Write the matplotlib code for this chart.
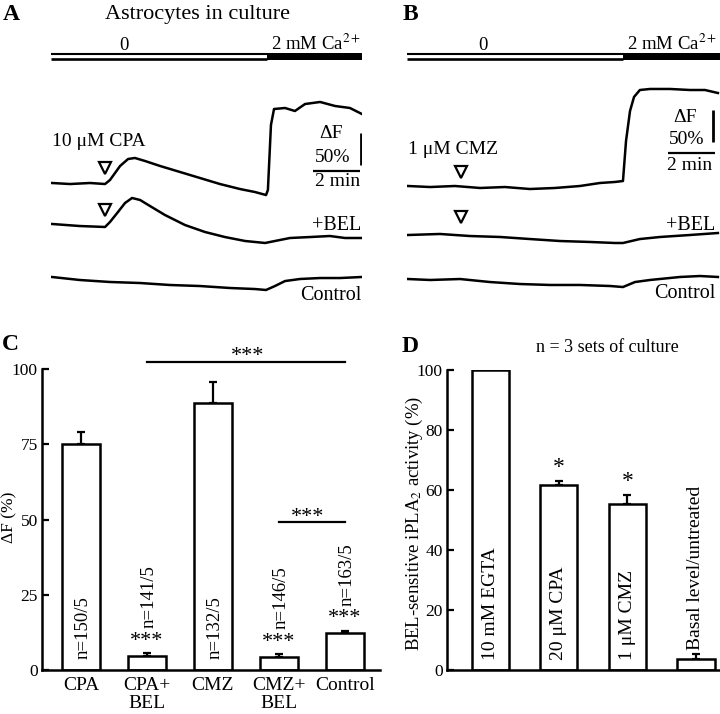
import matplotlib.pyplot as plt

plt.rcParams['font.family'] = ['Liberation Serif', 'DejaVu Serif']
plt.rcParams['mathtext.fontset'] = 'stix'

# ---- panel A traces: time (min), dF (%) relative to each trace's start ----
cpa_t = [0.04, 0.81, 1.66, 2.30, 2.51, 2.94, 3.28, 3.57, 4.00, 4.64, 5.49, 6.34,
         7.19, 8.04, 8.68, 9.15, 9.23, 9.36, 9.49, 9.96, 10.38, 10.81, 11.45,
         12.09, 12.72, 13.23]
cpa_df = [0, -1.6, 0, -1.6, 4.7, 26.6, 37.5, 39.1, 34.4, 26.6, 17.2, 7.8,
          -1.6, -9.4, -14.1, -18.8, -10.9, 90.6, 115.6, 117.2, 112.5, 123.4, 126.6,
          120.3, 117.2, 107.8]

cpa_bel_t = [0.04, 1.23, 2.30, 2.51, 2.85, 3.15, 3.45, 3.79, 4.21, 4.85, 5.70,
             6.55, 7.40, 8.26, 9.11, 9.53, 10.17, 11.02, 11.87, 12.51, 13.23]
cpa_bel_df = [1.6, -1.6, -3.1, 4.7, 20.3, 34.4, 42.2, 39.1, 29.7, 15.6, 0,
              -10.9, -18.8, -25.0, -28.1, -25.0, -20.3, -18.8, -17.2, -20.3, -20.3]

ctrl_a_t = [0.04, 1.23, 2.51, 3.79, 5.06, 6.34, 7.62, 8.68, 9.15, 9.53, 9.96,
            10.60, 11.45, 12.30, 13.23]
ctrl_a_df = [0, -4.7, -7.8, -9.4, -12.5, -14.1, -17.2, -18.8, -20.3, -14.1, -6.3,
             -3.1, -1.6, -1.6, 0]

# ---- panel B traces ----
cmz_t = [0.04, 0.98, 2.04, 3.11, 4.17, 5.23, 6.30, 7.36, 8.21, 8.85, 9.19,
         9.32, 9.49, 9.66, 9.91, 10.34, 11.19, 12.04, 12.68, 13.23]
cmz_df = [0, -1.6, 0, -3.1, -1.6, -4.7, -3.1, 0, 4.7, 6.3, 7.8,
          70.3, 117.2, 139.1, 150.0, 151.6, 151.6, 150.0, 150.0, 145.3]

cmz_bel_t = [0.04, 1.40, 2.68, 3.96, 5.23, 6.51, 7.79, 8.85, 9.19, 9.91, 10.77,
             12.04, 13.23]
cmz_bel_df = [0, 1.6, -1.6, -3.1, -6.3, -9.4, -10.9, -12.5, -12.5, -6.3, -3.1,
              0, 3.1]

ctrl_b_t = [0.04, 0.98, 2.26, 3.53, 4.81, 6.09, 7.36, 8.64, 9.19, 9.70, 10.34,
            11.62, 12.47, 13.23]
ctrl_b_df = [-1.6, -3.1, -1.6, -6.3, -9.4, -10.9, -10.9, -12.5, -14.1, -6.3, -3.1,
             1.6, 3.1, 1.6]

drug_time = 2.3      # min
ca_switch = 9.2      # min

# ---- panel C ----
c_labels = ['CPA', 'CPA+\nBEL', 'CMZ', 'CMZ+\nBEL', 'Control']
c_means = [75, 4.7, 88.7, 4.4, 12.4]
c_errs = [4.0, 0.8, 7.0, 0.9, 0.6]
c_n = ['n=150/5', 'n=141/5', 'n=132/5', 'n=146/5', 'n=163/5']
c_stars = ['', '***', '', '***', '***']

# ---- panel D ----
d_labels = ['10 mM EGTA', '20 \u03bcM CPA', '1 \u03bcM CMZ', 'Basal level/untreated']
d_means = [100, 61.7, 55.3, 3.8]
d_errs = [0, 1.3, 3.0, 1.5]
d_stars = ['', '*', '*', '']

W, H = 720, 714
fig = plt.figure(figsize=(7.2, 7.14), dpi=100)


def px_axes(l, t, r, b):
    return fig.add_axes([l / W, 1 - b / H, (r - l) / W, (b - t) / H])


def ftext(x, y, s, **kw):
    fig.text(x / W, 1 - y / H, s, **kw)


PX_MIN = 23.5
PX_PCT = 0.64


def ty(ypx):
    # trace-axes data y for a pixel row (axes spans rows 30..310)
    return (310 - ypx) / PX_PCT


def trace_panel(left, right, zero_x, traces, drug_label, label_y, marks, scale):
    ax = px_axes(left, 30, right, 310)
    end = (right - left) / PX_MIN
    ax.set_xlim(0, end)
    ax.set_ylim(0, 280 / PX_PCT)
    ax.axis('off')
    # solution bar
    ax.plot([0, ca_switch], [ty(54), ty(54)], color='black', lw=1.5, solid_capstyle='butt')
    ax.plot([0, ca_switch], [ty(58.6), ty(58.6)], color='black', lw=1.9, solid_capstyle='butt')
    ax.fill_between([ca_switch, end], ty(59.8), ty(52.6), color='black', lw=0)
    ax.text((zero_x - left) / PX_MIN, ty(46), '0', fontsize=13.5, ha='center', va='center')
    ax.text(ca_switch + 0.15, ty(44), '2 mM Ca$^{2+}$', fontsize=13.5, ha='left', va='center')
    # traces
    for (t, df), base in traces:
        ax.plot(t, [base + v for v in df], color='black', lw=1.8)
    # drug arrows
    for y in marks:
        ax.plot(drug_time, y, marker='v', ms=9, mfc='white', mec='black', mew=1.6)
    ax.text(0.05, drug_label[1], drug_label[0], fontsize=14, ha='left', va='center')
    rx = end - 0.03 if left == 51 else end - 0.2
    ax.text(rx, label_y[0], '+BEL', fontsize=14.5, ha='right', va='center')
    ax.text(rx, label_y[1], 'Control', fontsize=14.5, ha='right', va='center')
    # scale bar
    vx, vy0, hy, hx0, t1, t2, t3 = scale
    ax.plot([vx, vx], [vy0, vy0 + 50], color='black', lw=2, solid_capstyle='butt')
    ax.plot([hx0, hx0 + 2], [hy, hy], color='black', lw=1.6, solid_capstyle='butt')
    ax.text(t1[0], t1[1], '\u0394F', fontsize=14, ha='center', va='center')
    ax.text(t2[0], t2[1], '50%', fontsize=14, ha='center', va='center')
    ax.text(t3[0], t3[1], '2 min', fontsize=14, ha='center', va='center')
    return ax


trace_panel(51, 362, 124,
            [((cpa_t, cpa_df), ty(183)), ((cpa_bel_t, cpa_bel_df), ty(225)),
             ((ctrl_a_t, ctrl_a_df), ty(277))],
            ('10 \u03bcM CPA', ty(142)), (ty(225), ty(295)),
            [ty(168), ty(210)],
            (13.19, ty(165), ty(170.7), 11.15,
             (11.91, ty(134)), (12.0, ty(158)), (12.21, ty(182))))

trace_panel(407, 720, 483,
            [((cmz_t, cmz_df), ty(186)), ((cmz_bel_t, cmz_bel_df), ty(235)),
             ((ctrl_b_t, ctrl_b_df), ty(278))],
            ('1 \u03bcM CMZ', ty(150)), (ty(225), ty(293)),
            [ty(172), ty(217)],
            (13.02, ty(142), ty(153), 11.11,
             (11.83, ty(118)), (11.91, ty(140)), (12.04, ty(165))))

ftext(197, 15, 'Astrocytes in culture', fontsize=16, ha='center', va='center')
ftext(3, 14, 'A', fontsize=17, fontweight='bold', ha='left', va='center')
ftext(403, 14, 'B', fontsize=17, fontweight='bold', ha='left', va='center')
ftext(2, 344, 'C', fontsize=17, fontweight='bold', ha='left', va='center')
ftext(402, 346, 'D', fontsize=17, fontweight='bold', ha='left', va='center')


def style_bar_axes(ax):
    for s in ['top', 'right']:
        ax.spines[s].set_visible(False)
    for s in ['left', 'bottom']:
        ax.spines[s].set_linewidth(1.8)
    ax.tick_params(axis='y', direction='in', length=5, width=1.6, labelsize=12.5, pad=5)
    ax.tick_params(axis='x', length=0, labelsize=14, pad=5)


# ---- C ----
axC = px_axes(42, 369, 380, 670)
xc = list(range(len(c_means)))
axC.bar(xc, c_means, width=0.58, color='white', edgecolor='black', linewidth=1.8, zorder=2)
axC.errorbar(xc, c_means, yerr=[[0] * len(c_errs), c_errs], fmt='none', ecolor='black',
             elinewidth=1.6, capsize=3, capthick=1.6, zorder=1)
axC.set_xlim(-0.59, 4.53)
axC.set_ylim(0, 100)
axC.set_yticks([0, 25, 50, 75, 100])
axC.set_xticks(xc)
axC.set_xticklabels(c_labels, linespacing=1.05)
style_bar_axes(axC)
axC.tick_params(axis='y', pad=3)
for i in xc:
    top = c_means[i] + c_errs[i]
    if c_stars[i]:
        axC.text(i, top + 4.0, c_stars[i], fontsize=16, ha='center', va='center')
        axC.text(i + 0.03, top + 8.3, c_n[i], fontsize=13.5, rotation=90, ha='center', va='bottom')
    else:
        axC.text(i + 0.03, 3.8, c_n[i], fontsize=13.5, rotation=90, ha='center', va='bottom')
axC.plot([1, 4], [102.3, 102.3], color='black', lw=1.6, clip_on=False)
axC.text(2.52, 104.0, '***', fontsize=16, ha='center', va='center', clip_on=False)
axC.plot([3, 4], [49.2, 49.2], color='black', lw=1.6)
axC.text(3.44, 50.5, '***', fontsize=16, ha='center', va='center')
ftext(9, 517, '\u0394F (%)', fontsize=12.5, rotation=90, ha='center', va='center')

# ---- D ----
axD = px_axes(447, 370, 720, 670)
xd = list(range(len(d_means)))
axD.bar(xd, d_means, width=0.54, color='white', edgecolor='black', linewidth=1.8, zorder=2)
ei = [i for i in xd if d_errs[i] > 0]
axD.errorbar(ei, [d_means[i] for i in ei], yerr=[[0] * len(ei), [d_errs[i] for i in ei]],
             fmt='none', ecolor='black', elinewidth=1.6, capsize=3, capthick=1.6, zorder=1)
axD.set_xlim(-0.63, 3.35)
axD.set_ylim(0, 100)
axD.set_yticks([0, 20, 40, 60, 80, 100])
axD.set_xticks([])
style_bar_axes(axD)
axD.tick_params(axis='y', pad=3)
for i in xd:
    top = d_means[i] + d_errs[i]
    if d_stars[i]:
        axD.text(i, top + 4.5, d_stars[i], fontsize=17, ha='center', va='center')
    if i < 3:
        axD.text(i, 3.3, d_labels[i], fontsize=14, rotation=90, ha='center', va='bottom')
    else:
        axD.text(i, 6.7, d_labels[i], fontsize=14, rotation=90, ha='center', va='bottom')
ftext(607, 347, 'n = 3 sets of culture', fontsize=13, ha='center', va='center')
ftext(414, 523, 'BEL-sensitive iPLA$_2$ activity (%)', fontsize=13.5, rotation=90,
      ha='center', va='center')

fig.savefig('out.png', dpi=100)
